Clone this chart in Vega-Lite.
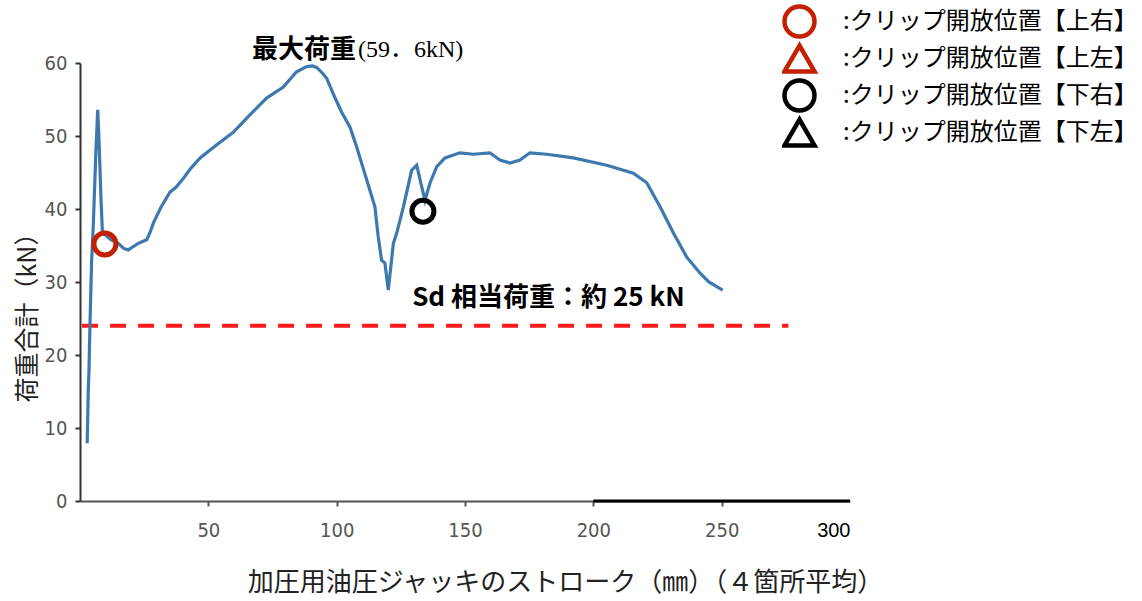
{
  "$schema": "https://vega.github.io/schema/vega-lite/v6.json",
  "width": 770,
  "height": 438,
  "autosize": {"type": "none"},
  "padding": {"left": 80, "top": 63, "right": 292, "bottom": 100},
  "background": "white",
  "config": {"view": {"stroke": null}},
  "datasets": {
    "curve": [
      {"x": 2.8, "y": 7.9}, {"x": 3.2, "y": 14.8}, {"x": 3.5, "y": 17.9}, {"x": 3.9, "y": 24.4},
      {"x": 4.5, "y": 32.6}, {"x": 5.2, "y": 38}, {"x": 6.1, "y": 47}, {"x": 6.9, "y": 53.6},
      {"x": 7.4, "y": 49.5}, {"x": 8.2, "y": 41.2}, {"x": 8.7, "y": 37.1}, {"x": 9.7, "y": 36.5},
      {"x": 12, "y": 35.8}, {"x": 14.9, "y": 35.3}, {"x": 17, "y": 34.6}, {"x": 18.8, "y": 34.4},
      {"x": 20.5, "y": 34.8}, {"x": 22.7, "y": 35.3}, {"x": 26, "y": 35.8}, {"x": 27.3, "y": 36.8},
      {"x": 28.6, "y": 38.1}, {"x": 31.5, "y": 40.2}, {"x": 35, "y": 42.3}, {"x": 37.5, "y": 43},
      {"x": 40.3, "y": 44.2}, {"x": 43, "y": 45.5}, {"x": 46.8, "y": 47}, {"x": 53.3, "y": 48.8},
      {"x": 59.7, "y": 50.5}, {"x": 66.2, "y": 52.9}, {"x": 72.7, "y": 55.2}, {"x": 79.2, "y": 56.7},
      {"x": 84.4, "y": 58.8}, {"x": 88.3, "y": 59.5}, {"x": 90.5, "y": 59.6}, {"x": 92.2, "y": 59.4},
      {"x": 94.5, "y": 58.6}, {"x": 96.1, "y": 57.9}, {"x": 99.4, "y": 55.2}, {"x": 101.9, "y": 53.3},
      {"x": 105.2, "y": 51.2}, {"x": 107.8, "y": 48.5}, {"x": 110.4, "y": 45.5}, {"x": 113, "y": 42.5},
      {"x": 114.9, "y": 40.3}, {"x": 116.2, "y": 36.2}, {"x": 117.5, "y": 33}, {"x": 118.8, "y": 32.6},
      {"x": 120.1, "y": 28.9}, {"x": 122.1, "y": 35.3}, {"x": 123.4, "y": 36.7}, {"x": 126, "y": 40.3},
      {"x": 129.2, "y": 45.3}, {"x": 131.2, "y": 46}, {"x": 132.5, "y": 44}, {"x": 134.4, "y": 41.2},
      {"x": 136.4, "y": 43.6}, {"x": 139, "y": 45.8}, {"x": 142.2, "y": 47}, {"x": 148, "y": 47.7},
      {"x": 153.2, "y": 47.5}, {"x": 159.7, "y": 47.7}, {"x": 163.6, "y": 46.7}, {"x": 167.5, "y": 46.3},
      {"x": 171.4, "y": 46.7}, {"x": 175.3, "y": 47.7}, {"x": 181.8, "y": 47.5}, {"x": 192.2, "y": 47},
      {"x": 205.2, "y": 46}, {"x": 215.6, "y": 44.9}, {"x": 220.8, "y": 43.6}, {"x": 226, "y": 40.3},
      {"x": 231.2, "y": 36.7}, {"x": 236.4, "y": 33.4}, {"x": 241.6, "y": 31.2}, {"x": 245, "y": 30},
      {"x": 250.4, "y": 28.9}
    ],
    "markers": [
      {"x": 9.7, "y": 35.2, "pos": ":クリップ開放位置【上右】"},
      {"x": 133.6, "y": 39.7, "pos": ":クリップ開放位置【下右】"}
    ],
    "sd": [{"x": 0.8, "x2": 276, "y": 24}],
    "axisseg": [{"x": 200, "x2": 300, "y": 0}],
    "label1": [{"x": 67, "y": 61.8, "t": "最大荷重"}],
    "label2": [{"x": 108.3, "y": 61.8, "t": "(59．6kN)"}],
    "label3": [{"x": 129.4, "y": 27.8, "t": "Sd 相当荷重：約 25 kN"}]
  },
  "layer": [
    {
      "data": {"name": "sd"},
      "mark": {"type": "rule", "color": "#ff1a1a", "strokeWidth": 4, "strokeDash": [16, 12]},
      "encoding": {
        "x": {"field": "x", "type": "quantitative"},
        "x2": {"field": "x2"},
        "y": {"field": "y", "type": "quantitative"}
      }
    },
    {
      "data": {"name": "curve"},
      "mark": {"type": "line", "color": "#3d78ae", "strokeWidth": 3.2},
      "encoding": {
        "x": {
          "field": "x", "type": "quantitative",
          "scale": {"domain": [0, 300], "nice": false},
          "axis": {
            "values": [50, 100, 150, 200, 250, 300],
            "grid": false,
            "ticks": true,
            "domainColor": "#555555", "domainWidth": 2,
            "tickColor": "#555555", "tickWidth": 2, "tickSize": 5,
            "tickOpacity": {"condition": {"test": "datum.value == 300", "value": 0}, "value": 1},
            "labelFont": {"condition": {"test": "datum.value == 300", "value": "Liberation Sans"}, "value": "Liberation Sans Narrow, DejaVu Sans Condensed, sans-serif"},
            "labelFontSize": 20,
            "labelColor": {"condition": {"test": "datum.value == 300", "value": "#000000"}, "value": "#555555"},
            "labelPadding": 14,
            "title": "加圧用油圧ジャッキのストローク（㎜）（４箇所平均）",
            "titleFont": "Noto Sans CJK JP",
            "titleFontWeight": "normal",
            "titleFontSize": 26,
            "titleColor": "#222222",
            "titleX": 485,
            "titleY": 81,
            "titleAlign": "center",
            "titleBaseline": "middle"
          }
        },
        "y": {
          "field": "y", "type": "quantitative",
          "scale": {"domain": [0, 60], "nice": false},
          "axis": {
            "values": [0, 10, 20, 30, 40, 50, 60],
            "grid": false,
            "ticks": true,
            "domainColor": "#333333", "domainWidth": 2,
            "tickColor": "#333333", "tickWidth": 2, "tickSize": 5,
            "labelFont": "Liberation Sans Narrow, DejaVu Sans Condensed, sans-serif",
            "labelFontSize": 20,
            "labelColor": "#555555",
            "labelPadding": 8,
            "title": "荷重合計（kN）",
            "titleFont": "Noto Sans CJK JP",
            "titleFontWeight": "normal",
            "titleFontSize": 25,
            "titleColor": "#222222",
            "titleX": -53,
            "titleY": 248,
            "titleAngle": 270,
            "titleAlign": "center",
            "titleBaseline": "middle"
          }
        }
      }
    },
    {
      "data": {"name": "axisseg"},
      "mark": {"type": "rule", "color": "#000000", "strokeWidth": 3},
      "encoding": {
        "x": {"field": "x", "type": "quantitative"},
        "x2": {"field": "x2"},
        "y": {"field": "y", "type": "quantitative"}
      }
    },
    {
      "data": {"name": "markers"},
      "mark": {"type": "point", "filled": false, "strokeWidth": 5, "size": 484, "opacity": 1},
      "encoding": {
        "x": {"field": "x", "type": "quantitative"},
        "y": {"field": "y", "type": "quantitative"},
        "color": {
          "field": "pos", "type": "nominal",
          "scale": {
            "domain": [":クリップ開放位置【上右】", ":クリップ開放位置【上左】", ":クリップ開放位置【下右】", ":クリップ開放位置【下左】"],
            "range": ["#c42000", "#c42000", "#000000", "#000000"]
          },
          "legend": {
            "title": null,
            "orient": "none",
            "legendX": 702,
            "legendY": -60,
            "padding": 0,
            "symbolSize": 900,
            "symbolStrokeWidth": 4.5,
            "labelFont": "Noto Sans CJK JP",
            "labelFontSize": 24,
            "labelFontWeight": "normal",
            "labelColor": "#000000",
            "labelLimit": 400,
            "labelOffset": 26,
            "clipHeight": 37,
            "rowPadding": 0
          }
        },
        "shape": {
          "field": "pos", "type": "nominal",
          "scale": {
            "domain": [":クリップ開放位置【上右】", ":クリップ開放位置【上左】", ":クリップ開放位置【下右】", ":クリップ開放位置【下左】"],
            "range": ["circle", "triangle-up", "circle", "triangle-up"]
          }
        }
      }
    },
    {
      "data": {"name": "label1"},
      "mark": {"type": "text", "align": "left", "baseline": "middle", "font": "Noto Sans CJK JP", "fontWeight": "bold", "fontSize": 26, "color": "#000000"},
      "encoding": {
        "x": {"field": "x", "type": "quantitative"},
        "y": {"field": "y", "type": "quantitative"},
        "text": {"field": "t"}
      }
    },
    {
      "data": {"name": "label2"},
      "mark": {"type": "text", "align": "left", "baseline": "middle", "font": "Liberation Serif, Noto Sans CJK JP", "fontSize": 24, "color": "#000000"},
      "encoding": {
        "x": {"field": "x", "type": "quantitative"},
        "y": {"field": "y", "type": "quantitative"},
        "text": {"field": "t"}
      }
    },
    {
      "data": {"name": "label3"},
      "mark": {"type": "text", "align": "left", "baseline": "middle", "font": "Noto Sans CJK JP", "fontWeight": "bold", "fontSize": 26, "color": "#000000"},
      "encoding": {
        "x": {"field": "x", "type": "quantitative"},
        "y": {"field": "y", "type": "quantitative"},
        "text": {"field": "t"}
      }
    }
  ]
}
